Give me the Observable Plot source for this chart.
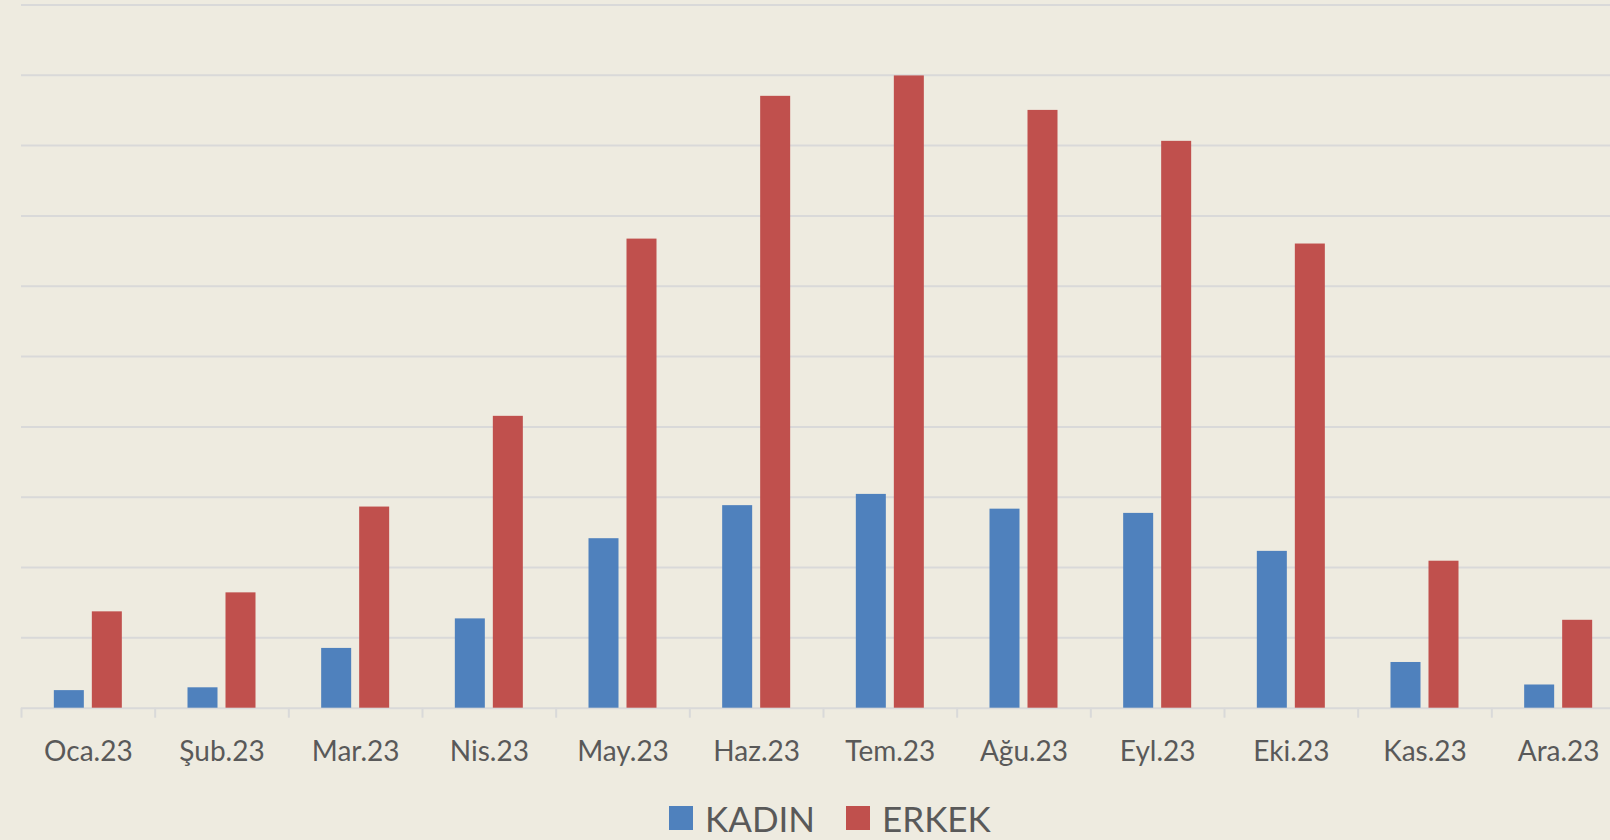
<!DOCTYPE html>
<html>
<head>
<meta charset="utf-8">
<script src="https://cdn.jsdelivr.net/npm/d3@7"></script>
<script src="https://cdn.jsdelivr.net/npm/@observablehq/plot@0.6"></script>
<style>
  html, body { margin: 0; padding: 0; background: #EEEBE0; overflow: hidden; width: 1610px; height: 840px; }
  #chart { position: absolute; left: 0; top: 0; width: 1626px; }
  #chart svg { max-width: none !important; }
  #legend { position: absolute; left: 669px; top: 797px; display: flex; align-items: center; font-family: Lato, sans-serif; font-size: 35px; color: #595959; white-space: nowrap; }
  .sw { display: inline-block; width: 24px; height: 24px; margin-right: 12px; }
  .item { display: flex; align-items: center; margin-right: 31px; }
</style>
</head>
<body>
<div id="chart"></div>
<div id="legend"></div>
<script>
const months = ["Oca.23", "Şub.23", "Mar.23", "Nis.23", "May.23", "Haz.23", "Tem.23", "Ağu.23", "Eyl.23", "Eki.23", "Kas.23", "Ara.23"];
const kadin = [25, 29, 85, 127, 241, 288, 304, 283, 277, 223, 65, 33];
const erkek = [137, 164, 286, 415, 667, 870, 899, 850, 806, 660, 209, 125];
const series = ["KADIN", "ERKEK"];
const colors = ["#4F81BD", "#C0504D"];

const rowsK = months.map((m, i) => ({month: m, value: kadin[i]}));
const rowsE = months.map((m, i) => ({month: m, value: erkek[i]}));

const W = 1626, ML = 21, MR = 1;
const step = (W - ML - MR) / months.length;
const barW = 30, off = 19;
const inset = (step - barW) / 2;

const chart = Plot.plot({
  width: W,
  height: 780,
  marginLeft: ML,
  marginRight: MR,
  marginTop: 4.4,
  marginBottom: 72.3,
  style: { background: "transparent", fontFamily: "Lato, sans-serif", maxWidth: "none" },
  x: { domain: months, padding: 0, round: false, axis: null },
  y: { domain: [0, 1000], axis: null },
  marks: [
    Plot.gridY({ interval: 100, stroke: "#D9D9D9", strokeOpacity: 1, strokeWidth: 2 }),
    Plot.barY(rowsK, { x: "month", y: "value", fill: colors[0], insetLeft: inset, insetRight: inset, dx: -off }),
    Plot.barY(rowsE, { x: "month", y: "value", fill: colors[1], insetLeft: inset, insetRight: inset, dx: off }),
    Plot.axisX({ tickSize: 10, tickFormat: () => "", stroke: "#D9D9D9", strokeWidth: 2, dx: -step / 2, label: null }),
    Plot.axisX({ tickSize: 0, tickPadding: 33, fontSize: 28, fill: "#595959", label: null })
  ]
});
document.getElementById("chart").appendChild(chart);

const lg = document.getElementById("legend");
series.forEach((s, i) => {
  const it = document.createElement("span");
  it.className = "item";
  it.innerHTML = `<span class="sw" style="background:${colors[i]}"></span><span>${s}</span>`;
  lg.appendChild(it);
});
</script>
</body>
</html>
